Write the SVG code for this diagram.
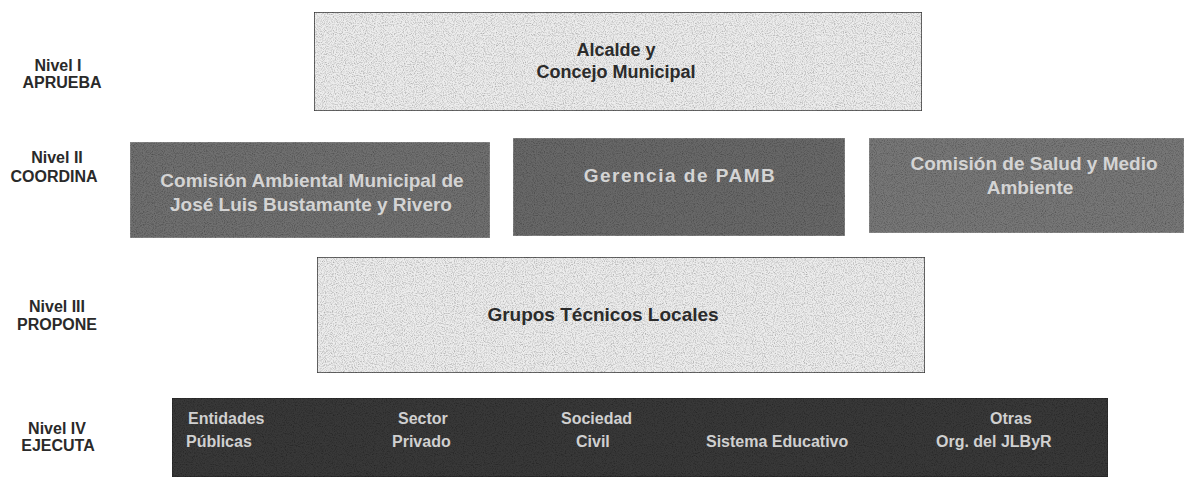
<svg xmlns="http://www.w3.org/2000/svg" width="1184" height="484" viewBox="0 0 1184 484">
<style>
.lvl{font-family:"Liberation Sans",Arial,sans-serif;font-weight:bold;font-size:16px;fill:#2a2a2a;text-anchor:middle}
.lt{font-family:"Liberation Sans",Arial,sans-serif;font-weight:bold;font-size:18px;fill:#2b2b2b;text-anchor:middle}
.dt{font-family:"Liberation Sans",Arial,sans-serif;font-weight:bold;font-size:19px;fill:#d4d4d4;text-anchor:middle}
.bt{font-family:"Liberation Sans",Arial,sans-serif;font-weight:bold;font-size:16px;fill:#d0d0d0}
.light{fill:#ededed;stroke:#3a3a3a;stroke-width:1.5}
.mid{stroke:#9a9a9a;stroke-width:1}
</style>
<defs>
<filter id="grain" x="0" y="0" width="100%" height="100%">
<feTurbulence type="fractalNoise" baseFrequency="0.9" numOctaves="2" seed="3" result="n"/>
<feColorMatrix in="n" type="matrix" values="0 0 0 0 0.5  0 0 0 0 0.5  0 0 0 0 0.5  0 0 0 -2.2 1.3" result="g"/>
<feComposite in="g" in2="SourceGraphic" operator="in" result="gc"/>
<feBlend in="gc" in2="SourceGraphic" mode="multiply"/>
</filter>
</defs>
<rect width="1184" height="484" fill="#ffffff"/>
<g id="levels">
<text class="lvl" x="58" y="71">Nivel I</text>
<text class="lvl" x="62" y="88">APRUEBA</text>
<text class="lvl" x="57" y="163">Nivel II</text>
<text class="lvl" x="54" y="182">COORDINA</text>
<text class="lvl" x="57" y="312">Nivel III</text>
<text class="lvl" x="57" y="330">PROPONE</text>
<text class="lvl" x="57" y="434">Nivel IV</text>
<text class="lvl" x="58" y="451">EJECUTA</text>
</g>
<g id="connectors"></g>
<g id="n1">
<rect class="light" x="314" y="12" width="608" height="99" filter="url(#grain)"/>
<text class="lt" x="616" y="56">Alcalde y</text>
<text class="lt" x="616" y="78">Concejo Municipal</text>
</g>
<g id="n2">
<rect class="mid" x="130" y="142" width="360" height="96" fill="#6f6f6f" filter="url(#grain)"/>
<text class="dt" x="312" y="187">Comisión Ambiental Municipal  de</text>
<text class="dt" x="311" y="211">José Luis Bustamante y Rivero</text>
</g>
<g id="n3">
<rect class="mid" x="513" y="138" width="332" height="98" fill="#686868" filter="url(#grain)"/>
<text class="dt" x="680" y="182" style="letter-spacing:1.5px">Gerencia de PAMB</text>
</g>
<g id="n4">
<rect class="mid" x="869" y="138" width="315" height="95" fill="#777777" filter="url(#grain)"/>
<text class="dt" x="1034" y="170">Comisión de Salud y Medio</text>
<text class="dt" x="1030" y="194">Ambiente</text>
</g>
<g id="n5">
<rect class="light" x="317" y="257" width="608" height="116" filter="url(#grain)"/>
<text class="lt" x="603" y="321" style="font-size:19px">Grupos Técnicos Locales</text>
</g>
<g id="n6">
<rect x="172" y="398" width="936" height="79" fill="#383838" stroke="#222" stroke-width="1" filter="url(#grain)"/>
<g class="bt">
<text x="188" y="424">Entidades</text>
<text x="186" y="447">Públicas</text>
<text x="398" y="424">Sector</text>
<text x="392" y="447">Privado</text>
<text x="561" y="424">Sociedad</text>
<text x="576" y="447">Civil</text>
<text x="706" y="447">Sistema Educativo</text>
<text x="990" y="424">Otras</text>
<text x="936" y="447">Org. del JLByR</text>
</g>
</g>
</svg>
